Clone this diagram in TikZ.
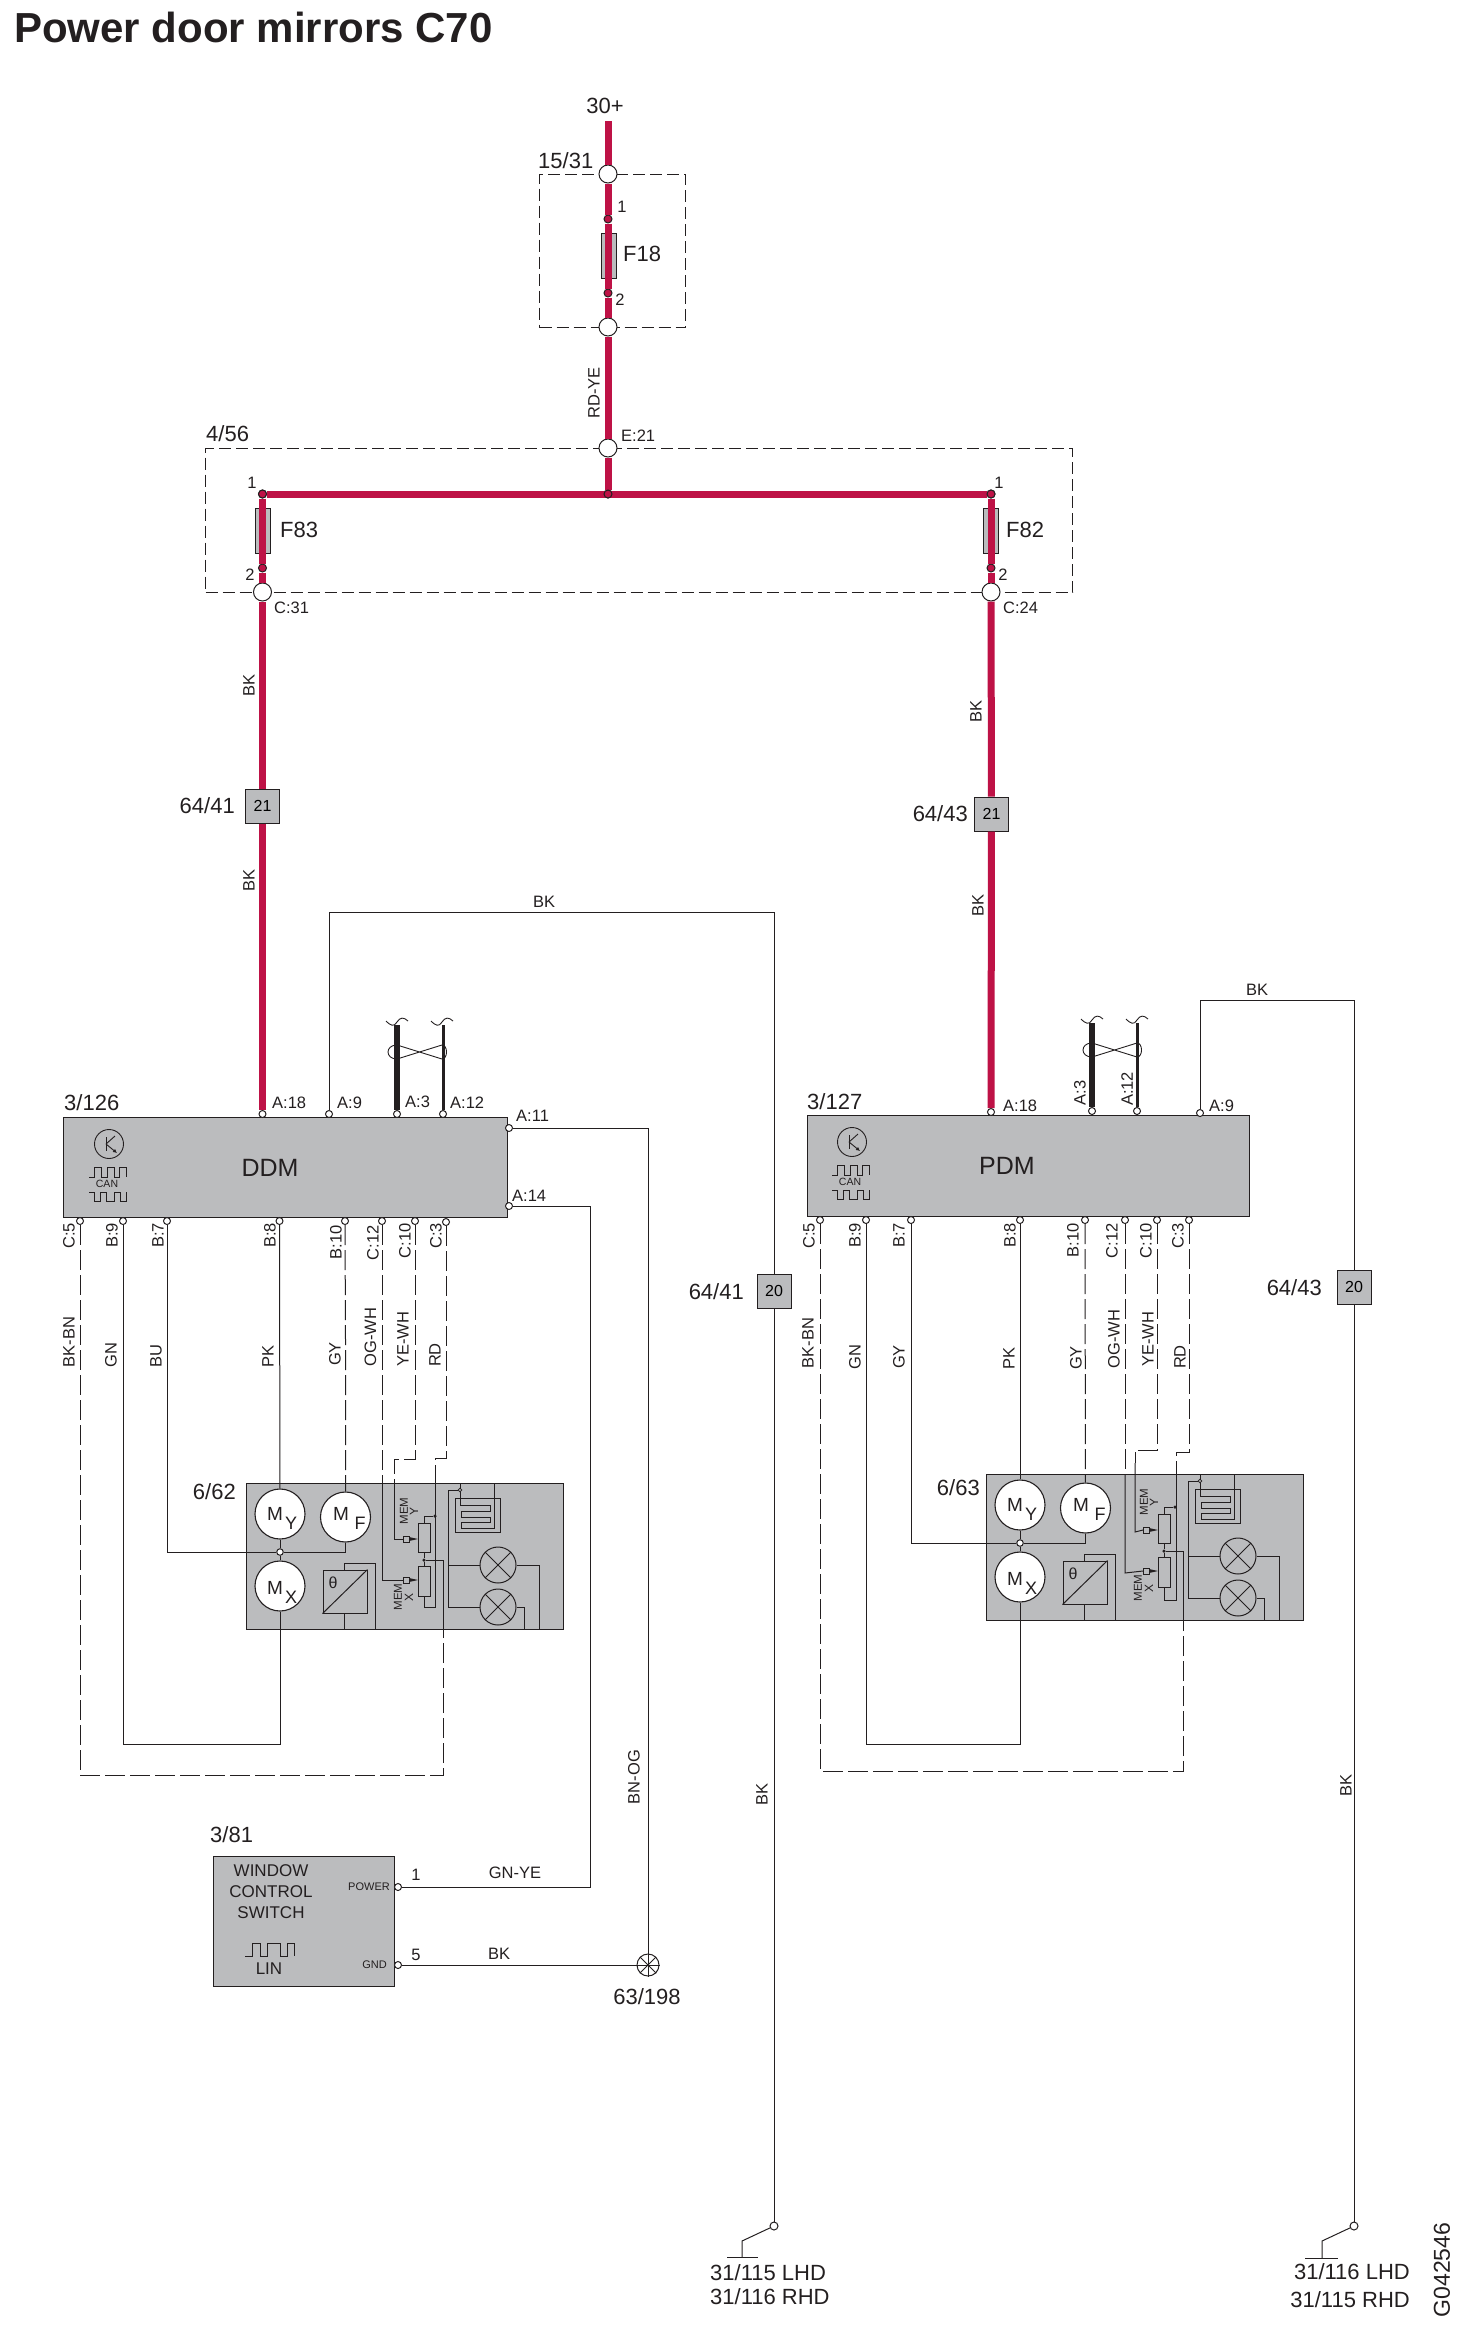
\documentclass[tikz,border=0pt]{standalone}
\usepackage{fontspec}
\setmainfont{Liberation Sans}
\usepackage{xcolor}
\usetikzlibrary{arrows.meta}
\usetikzlibrary{shapes.geometric}
\definecolor{powerred}{HTML}{BE1246}
\definecolor{unitgrey}{HTML}{BBBCBE}
\definecolor{ink}{HTML}{231F20}
\tikzset{
wire/.style={draw=ink,line width=1pt,line join=miter},
dashwire/.style={wire,dash pattern=on 20pt off 5pt},
dashbox/.style={draw=ink,line width=1pt,dash pattern=on 12pt off 5pt},
powerwire/.style={draw=powerred,line width=7pt},
greybox/.style={rectangle,draw=ink,fill=unitgrey,line width=1.1pt,inner sep=0pt,anchor=north west},
pinnode/.style={circle,draw=ink,fill=white,line width=1pt,minimum size=7pt,inner sep=0pt},
bignode/.style={circle,draw=ink,fill=white,line width=1pt,minimum size=18pt,inner sep=0pt},
reddot/.style={circle,draw=ink,fill=powerred,line width=1pt,minimum size=8pt,inner sep=0pt},
blackdot/.style={circle,fill=ink,minimum size=3.5pt,inner sep=0pt},
fusebox/.style={rectangle,draw=ink,fill=unitgrey,line width=1pt,minimum width=15pt,minimum height=45pt,inner sep=0pt},
connbox/.style={rectangle,draw=ink,fill=unitgrey,line width=1pt,minimum size=34pt,inner sep=0pt,font=\fontsize{16}{18}\selectfont},
motor/.style={circle,draw=ink,fill=white,line width=1.1pt,minimum size=50pt,inner sep=0pt},
lamp/.style={circle,draw=ink,line width=1pt,minimum size=36pt,inner sep=0pt},
lab/.style={font=\fontsize{16.5}{18}\selectfont,text=ink,inner sep=0pt},
biglab/.style={font=\fontsize{22}{24}\selectfont,text=ink,inner sep=0pt},
vert/.style={lab,rotate=90},
pinlab/.style={lab,rotate=90,anchor=east},
twistpair/.pic={
\draw[wire,line width=.9pt] (0,20) .. controls (-12,20) and (-12,34) .. (0,34) -- (45,20) .. controls (51,20) and (51,34) .. (45,34) -- cycle;
\draw[wire,line width=.9pt] (-11,-4) .. controls (-6,1) and (-3,2) .. (0,-3) .. controls (3,-8) and (7,-8) .. (11,-4);
\draw[wire,line width=.9pt] (34,-4) .. controls (39,1) and (42,2) .. (45,-3) .. controls (48,-8) and (52,-8) .. (56,-4);
},
canicon/.pic={
\node[circle,draw=ink,line width=.9pt,minimum size=29pt,inner sep=0pt] (ring) at (0,0) {};
\draw[wire,line width=.9pt] (-3,-7) -- (-3,7);
\draw[wire,line width=.9pt] (-3,0) -- (6,-8);
\draw[wire,line width=.9pt,-{Latex[length=4pt,width=4pt]}] (-3,0) -- (8,9);
\draw[wire,line width=.9pt] (-20,33) -- (-15,33) -- (-15,23) -- (-8,23) -- (-8,33) -- (-2,33) -- (-2,23) -- (5,23) -- (5,33) -- (10,33) -- (10,23) -- (17,23) -- (17,33);
\node[font=\fontsize{10.5}{12}\selectfont,text=ink,inner sep=0pt] (cantext) at (-2,40) {CAN};
\draw[wire,line width=.9pt] (-20,48) -- (-15,48) -- (-15,57) -- (-9,57) -- (-9,48) -- (-3,48) -- (-3,57) -- (5,57) -- (5,48) -- (11,48) -- (11,57) -- (17,57) -- (17,48);
},
wiper/.pic={
\draw[wire,line width=.9pt] (0,-3) rectangle (6,3);
\fill[ink] (6,-2) -- (15,0) -- (6,2) -- cycle;
},
mirrorunit/.pic={
\node[greybox,minimum width=317pt,minimum height=146pt] (box) at (0,0) {};
\node[motor] (my) at (34,31) {};
\node[motor] (mf) at (99.5,34) {};
\node[motor] (mx) at (34,103) {};
\node[pinnode,minimum size=6.5pt] (jm) at (34,69) {};
\node[font=\fontsize{19}{20}\selectfont,text=ink,inner sep=0pt] (mya) at (29,31) {M};
\node[font=\fontsize{18}{20}\selectfont,text=ink,inner sep=0pt] (myb) at (45,40) {Y};
\node[font=\fontsize{19}{20}\selectfont,text=ink,inner sep=0pt] (mfa) at (95,31) {M};
\node[font=\fontsize{18}{20}\selectfont,text=ink,inner sep=0pt] (mfb) at (114,40) {F};
\node[font=\fontsize{19}{20}\selectfont,text=ink,inner sep=0pt] (mxa) at (29,105) {M};
\node[font=\fontsize{18}{20}\selectfont,text=ink,inner sep=0pt] (mxb) at (45,114) {X};
\draw[wire] (my) -- (jm);
\draw[wire] (jm) -- (mx);
\coordinate (in) at (0,69);
\draw[wire] (in) -- (jm);
\draw[wire] (jm) -| (mf);
\node[rectangle,draw=ink,line width=1pt,minimum width=44pt,minimum height=43pt,inner sep=0pt] (conv) at (99,108.5) {};
\draw[wire] (conv.south west) -- (conv.north east);
\node[font=\fontsize{16}{18}\selectfont,text=ink,inner sep=0pt] (theta) at (87,100) {θ};
\draw[wire] (98,87) -- (98,80) -- (129,80) -- (129,146);
\draw[wire] (98,130) -- (98,146);
\node[rectangle,draw=ink,line width=1pt,minimum width=12pt,minimum height=29pt,inner sep=0pt] (resup) at (178,54.5) {};
\node[rectangle,draw=ink,line width=1pt,minimum width=12pt,minimum height=30pt,inner sep=0pt] (reslo) at (178,98) {};
\node[blackdot] (dotup) at (189,33) {};
\node[blackdot] (dotmid) at (178,77) {};
\draw[wire] (dotup) -| (resup);
\draw[wire] (resup) -- (dotmid);
\draw[wire] (dotmid) -- (reslo);
\coordinate (out) at (197,146);
\draw[wire] (dotmid) -| (out);
\coordinate (wy) at (157,56);
\coordinate (wx) at (157,97);
\pic at (wy) {wiper};
\pic at (wx) {wiper};
\node[font=\fontsize{11.5}{13}\selectfont,text=ink,inner sep=0pt,rotate=90] (memy) at (158,28) {MEM};
\node[font=\fontsize{12}{13}\selectfont,text=ink,inner sep=0pt,rotate=90] (memyb) at (168,28) {Y};
\node[font=\fontsize{11.5}{13}\selectfont,text=ink,inner sep=0pt,rotate=90] (memx) at (152,114) {MEM};
\node[font=\fontsize{12}{13}\selectfont,text=ink,inner sep=0pt,rotate=90] (memxb) at (163,114) {X};
\node[rectangle,draw=ink,line width=1pt,minimum width=45pt,minimum height=34pt,inner sep=0pt] (heat) at (231.5,32) {};
\draw[wire] (214,0) -- (214,22) -- (244,22) -- (244,28) -- (215,28) -- (215,34) -- (244,34) -- (244,39) -- (215,39) -- (215,45) -- (248,45) -- (248,0);
\node[pinnode,minimum size=3.5pt,line width=.8pt] (dotheat) at (214,7) {};
\coordinate (railtop) at (202,7);
\coordinate (railbot) at (202,124);
\draw[wire] (dotheat) -- (railtop) -- (railbot);
\node[lamp] (lampa) at (252,82) {};
\node[lamp] (lampb) at (252,124) {};
\draw[wire] (lampa.45) -- (lampa.225);
\draw[wire] (lampa.135) -- (lampa.315);
\draw[wire] (lampb.45) -- (lampb.225);
\draw[wire] (lampb.135) -- (lampb.315);
\draw[wire] (202,82) -- (lampa);
\draw[wire] (railbot) -- (lampb);
\draw[wire] (lampa) -- (293,82) -- (293,146);
\draw[wire] (lampb) -- (278,124) -- (278,146);
}
}
\begin{document}
\begin{tikzpicture}[x=1pt,y=-1pt]
\useasboundingbox (0,0) rectangle (1464,2334);
\node[font=\bfseries\fontsize{42}{46}\selectfont,text=ink,inner sep=0pt,anchor=west] (title) at (14,27) {Power door mirrors C70};
% fuse boxes
\node[dashbox,rectangle,minimum width=146pt,minimum height=153pt,inner sep=0pt,anchor=north west] (box1531) at (539,174) {};
\node[dashbox,rectangle,minimum width=867pt,minimum height=144pt,inner sep=0pt,anchor=north west] (box456) at (205,448) {};
\node[fusebox] (f18) at (608.5,256) {};
\node[fusebox] (f83) at (262.5,531) {};
\node[fusebox] (f82) at (990.5,531) {};
\coordinate (feed) at (608,121);
\node[bignode] (n1) at (608,174) {};
\node[reddot] (d1) at (608,219) {};
\node[reddot] (d2) at (608,293) {};
\node[bignode] (n2) at (608,327) {};
\node[bignode] (e21) at (608,448) {};
\node[reddot] (jct) at (608,494) {};
\node[reddot] (d83a) at (262.5,494) {};
\node[reddot] (d83b) at (262.5,568) {};
\node[bignode] (c31) at (262.5,592) {};
\node[reddot] (d82a) at (991,494) {};
\node[reddot] (d82b) at (991,568) {};
\node[bignode] (c24) at (991,592) {};
\node[connbox] (c21l) at (262.5,806) {21};
\node[connbox] (c21r) at (991.5,814) {21};
\node[connbox] (c20l) at (774,1291) {20};
\node[connbox] (c20r) at (1354,1287) {20};
% control modules
\node[greybox,minimum width=444pt,minimum height=100pt] (ddm) at (63,1117) {};
\node[greybox,minimum width=442pt,minimum height=101pt] (pdm) at (807,1115) {};
\node[greybox,minimum width=181pt,minimum height=130pt] (sw) at (213,1856) {};
\pic at (109,1144) {canicon};
\pic at (852,1142) {canicon};
\pic (ml) at (246,1483) {mirrorunit};
\pic (mr) at (986,1474) {mirrorunit};
\pic at (397,1025) {twistpair};
\pic at (1092,1023) {twistpair};
\coordinate (tla) at (397,1025);
\coordinate (tlb) at (443,1025);
\coordinate (tra) at (1092,1023);
\coordinate (trb) at (1137,1023);
% pins
\node[pinnode] (la18) at (262.5,1114) {};
\node[pinnode] (la9) at (329,1114) {};
\node[pinnode] (la3) at (397,1114) {};
\node[pinnode] (la12) at (443,1114) {};
\node[pinnode] (la11) at (509,1128) {};
\node[pinnode] (la14) at (509,1206) {};
\node[pinnode] (lc5) at (80,1221) {};
\node[pinnode] (lb9) at (123,1221) {};
\node[pinnode] (lb7) at (167,1221) {};
\node[pinnode] (lb8) at (279.5,1221) {};
\node[pinnode] (lb10) at (345,1221) {};
\node[pinnode] (lc12) at (382,1221) {};
\node[pinnode] (lc10) at (415,1221) {};
\node[pinnode] (lc3) at (446,1222) {};
\node[pinnode] (ra18) at (991,1112) {};
\node[pinnode] (ra3) at (1092,1111) {};
\node[pinnode] (ra12) at (1137,1111) {};
\node[pinnode] (ra9) at (1200,1113) {};
\node[pinnode] (rc5) at (820,1220) {};
\node[pinnode] (rb9) at (866,1220) {};
\node[pinnode] (rb7) at (911,1220) {};
\node[pinnode] (rb8) at (1020,1220) {};
\node[pinnode] (rb10) at (1085,1220) {};
\node[pinnode] (rc12) at (1125,1220) {};
\node[pinnode] (rc10) at (1157,1220) {};
\node[pinnode] (rc3) at (1189,1220) {};
\node[pinnode] (swp) at (398,1887) {};
\node[pinnode] (swg) at (398,1965) {};
\node[circle,draw=ink,line width=1pt,minimum size=22pt,inner sep=0pt] (g198) at (648,1965) {};
\node[pinnode,minimum size=8pt] (gl) at (774,2226) {};
\node[pinnode,minimum size=8pt] (gr) at (1354,2226) {};
\coordinate (gla) at (742,2241);
\coordinate (glb) at (742,2257);
\coordinate (gra) at (1322,2241);
\coordinate (grb) at (1322,2258);
% power feed
\draw[powerwire] (feed) -- (n1);
\draw[powerwire] (n1) -- (d1);
\draw[powerwire] (d1) -- (d2);
\draw[powerwire] (d2) -- (n2);
\draw[powerwire] (n2) -- (e21);
\draw[powerwire] (e21) -- (jct);
\draw[powerwire] (d83a) -- (d82a);
\draw[powerwire] (d83a) -- (d83b);
\draw[powerwire] (d83b) -- (c31);
\draw[powerwire] (c31) -- (c21l);
\draw[powerwire] (c21l) -- (la18);
\draw[powerwire] (d82a) -- (d82b);
\draw[powerwire] (d82b) -- (c24);
\draw[powerwire] (c24) -- (c21r);
\draw[powerwire] (c21r) -- (ra18);
\node[reddot] (jctb) at (608,494) {};
\node[reddot] (d83c) at (262.5,494) {};
\node[reddot] (d82c) at (991,494) {};
% twisted pairs
\draw[draw=ink,line width=6.5pt] (tla) -- (la3);
\draw[draw=ink,line width=3pt] (tlb) -- (la12);
\draw[draw=ink,line width=6.5pt] (tra) -- (ra3);
\draw[draw=ink,line width=3pt] (trb) -- (ra12);
% DDM wires
\draw[wire] (la9) -- (329,912) -| (c20l);
\draw[wire] (c20l) -- (gl);
\draw[wire] (gl) -- (gla) -- (glb);
\draw[wire] (727,2257) -- (glb) -- (758,2257);
\draw[wire] (la11) -| (g198);
\draw[wire] (la14) -| (590.5,1887) -- (swp);
\draw[wire] (swg) -- (g198);
\draw[wire] (g198.45) -- (g198.225);
\draw[wire] (g198.135) -- (g198.315);
\draw[wire] (g198.90) -- (g198.270);
\draw[wire] (g198.0) -- (g198.180);
\draw[dashwire] (lc5) -- (80,1775) -- (443,1775) -- (mlout);
\draw[wire] (lb9) -- (123,1744) -| (mlmx);
\draw[wire] (lb7) -- (167,1552) -- (mlin);
\draw[wire] (lb8) -- (mlmy);
\draw[dashwire] (lb10) -- (345.5,1340) -- (mlmf);
\draw[dashwire] (lc12) -- (382,1483);
\draw[wire] (382,1483) -- (382,1580) -- (mlwx);
\draw[dashwire] (lc10) -- (415,1459) -- (394,1459) -- (394,1479);
\draw[wire] (394,1479) -- (394,1539) -- (mlwy);
\draw[dashwire] (lc3) -- (446,1458) -- (435,1458) -- (435,1483);
\draw[wire] (435,1483) -- (435,1607) -| (mlreslo);
% PDM wires
\draw[wire] (ra9) -- (1200,1000) -| (c20r);
\draw[wire] (c20r) -- (gr);
\draw[wire] (gr) -- (gra) -- (grb);
\draw[wire] (1305,2258) -- (grb) -- (1338,2258);
\draw[dashwire] (rc5) -- (820,1771) -- (1183,1771) -- (mrout);
\draw[wire] (rb9) -- (866,1744) -| (mrmx);
\draw[wire] (rb7) -- (911,1543) -- (mrin);
\draw[wire] (rb8) -- (mrmy);
\draw[dashwire] (rb10) -- (mrmf);
\draw[dashwire] (rc12) -- (1125,1474);
\draw[wire] (1125,1474) -- (1125,1573) -- (mrwx);
\draw[dashwire] (rc10) -- (1157,1450) -- (1135,1450) -- (1135,1463);
\draw[wire] (1135,1463) -- (1135,1532) -- (mrwy);
\draw[dashwire] (rc3) -- (1189,1452) -- (1176,1452) -- (1176,1474);
\draw[wire] (1176,1474) -- (1176,1600) -| (mrreslo);
% labels top
\node[biglab] (t30) at (605,106) {30+};
\node[biglab,anchor=west] (t1531) at (538,161) {15/31};
\node[lab] (t1a) at (622,207) {1};
\node[biglab,anchor=west] (tf18) at (623,254) {F18};
\node[lab] (t2a) at (620,300) {2};
\node[vert] (trdye) at (594,393) {RD-YE};
\node[lab,anchor=west] (te21) at (621,436) {E:21};
\node[biglab,anchor=west] (t456) at (206,434) {4/56};
\node[lab] (t1b) at (252,483) {1};
\node[biglab,anchor=west] (tf83) at (280,530) {F83};
\node[lab] (t2b) at (250,575) {2};
\node[lab,anchor=west] (tc31) at (274,608) {C:31};
\node[lab] (t1c) at (999,483) {1};
\node[biglab,anchor=west] (tf82) at (1006,530) {F82};
\node[lab] (t2c) at (1003,575) {2};
\node[lab,anchor=west] (tc24) at (1003,608) {C:24};
\node[vert] (tbka) at (249,685) {BK};
\node[vert] (tbkb) at (249,880) {BK};
\node[vert] (tbkc) at (976,711) {BK};
\node[vert] (tbkd) at (978,905) {BK};
\node[biglab,anchor=east] (t6441a) at (235,806) {64/41};
\node[biglab,anchor=east] (t6443a) at (968,814) {64/43};
\node[biglab,anchor=east] (t6441b) at (744,1292) {64/41};
\node[biglab,anchor=east] (t6443b) at (1322,1288) {64/43};
\node[lab] (tbke) at (544,902) {BK};
\node[lab] (tbkf) at (1257,990) {BK};
% labels DDM
\node[biglab,anchor=west] (t3126) at (64,1103) {3/126};
\node[font=\fontsize{25}{27}\selectfont,text=ink,inner sep=0pt] (tddm) at (270,1168) {DDM};
\node[lab,anchor=west] (tla18) at (272,1103) {A:18};
\node[lab,anchor=west] (tla9) at (337,1103) {A:9};
\node[lab,anchor=west] (tla3) at (405,1102) {A:3};
\node[lab,anchor=west] (tla12) at (450,1103) {A:12};
\node[lab,anchor=west] (tla11) at (516,1116) {A:11};
\node[lab,anchor=west] (tla14) at (512,1196) {A:14};
\node[pinlab] (tlc5) at (69,1223) {C:5};
\node[pinlab] (tlb9) at (112,1223) {B:9};
\node[pinlab] (tlb7) at (158,1223) {B:7};
\node[pinlab] (tlb8) at (270,1223) {B:8};
\node[pinlab] (tlb10) at (336,1225) {B:10};
\node[pinlab] (tlc12) at (373,1225) {C:12};
\node[pinlab] (tlc10) at (405,1223) {C:10};
\node[pinlab] (tlc3) at (436,1223) {C:3};
\node[vert] (twa) at (69,1342) {BK-BN};
\node[vert] (twb) at (111,1355) {GN};
\node[vert] (twc) at (156,1356) {BU};
\node[vert] (twd) at (268,1356) {PK};
\node[vert] (twe) at (335,1354) {GY};
\node[vert] (twf) at (370.5,1337) {OG-WH};
\node[vert] (twg) at (403,1339) {YE-WH};
\node[vert] (twh) at (435,1355) {RD};
\node[biglab,anchor=east] (t662) at (236,1492) {6/62};
\node[vert] (tbnog) at (634,1777) {BN-OG};
\node[vert] (tbkg) at (762,1794) {BK};
\node[vert] (tbkh) at (1346,1785) {BK};
% labels PDM
\node[biglab,anchor=west] (t3127) at (807,1102) {3/127};
\node[font=\fontsize{25}{27}\selectfont,text=ink,inner sep=0pt] (tpdm) at (1007,1166) {PDM};
\node[lab,anchor=west] (tra18) at (1003,1106) {A:18};
\node[vert] (tra3) at (1080,1093) {A:3};
\node[vert] (tra12) at (1127,1089) {A:12};
\node[lab,anchor=west] (tra9) at (1209,1106) {A:9};
\node[pinlab] (trc5) at (809,1223) {C:5};
\node[pinlab] (trb9) at (855,1223) {B:9};
\node[pinlab] (trb7) at (899,1223) {B:7};
\node[pinlab] (trb8) at (1010,1223) {B:8};
\node[pinlab] (trb10) at (1073,1223) {B:10};
\node[pinlab] (trc12) at (1112,1223) {C:12};
\node[pinlab] (trc10) at (1146,1223) {C:10};
\node[pinlab] (trc3) at (1178,1223) {C:3};
\node[vert] (tva) at (808,1343) {BK-BN};
\node[vert] (tvb) at (855,1357) {GN};
\node[vert] (tvc) at (899,1357) {GY};
\node[vert] (tvd) at (1009,1358) {PK};
\node[vert] (tve) at (1076,1358) {GY};
\node[vert] (tvf) at (1114,1339) {OG-WH};
\node[vert] (tvg) at (1148,1339) {YE-WH};
\node[vert] (tvh) at (1180,1357) {RD};
\node[biglab,anchor=east] (t663) at (980,1488) {6/63};
% window control switch
\node[biglab,anchor=west] (t381) at (210,1835) {3/81};
\node[font=\fontsize{17}{21}\selectfont,text=ink,inner sep=0pt,align=center] (swtext) at (271,1892) {WINDOW\\CONTROL\\SWITCH};
\draw[wire] (245,1956) -- (252,1956) -- (252,1943) -- (260,1943) -- (260,1956) -- (267,1956) -- (267,1943) -- (280,1943) -- (280,1956) -- (287,1956) -- (287,1943) -- (294,1943) -- (294,1956);
\node[font=\fontsize{17}{19}\selectfont,text=ink,inner sep=0pt] (tlin) at (269,1969) {LIN};
\node[font=\fontsize{11}{12}\selectfont,text=ink,inner sep=0pt,anchor=east] (tpower) at (390,1887) {POWER};
\node[font=\fontsize{11}{12}\selectfont,text=ink,inner sep=0pt,anchor=east] (tgnd) at (387,1965) {GND};
\node[lab] (tp1) at (416,1875) {1};
\node[lab] (tp5) at (416,1955) {5};
\node[lab] (tgnye) at (515,1873) {GN-YE};
\node[lab] (tbki) at (499,1954) {BK};
\node[biglab] (t63198) at (647,1997) {63/198};
% earth points
\node[biglab,anchor=west] (tgla) at (710,2273) {31/115 LHD};
\node[biglab,anchor=west] (tglb) at (710,2297) {31/116 RHD};
\node[biglab,anchor=east] (tgra) at (1410,2272) {31/116 LHD};
\node[biglab,anchor=east] (tgrb) at (1410,2300) {31/115 RHD};
\node[font=\fontsize{23}{25}\selectfont,text=ink,inner sep=0pt,rotate=90] (tcode) at (1442,2270) {G042546};
\end{tikzpicture}
\end{document}
